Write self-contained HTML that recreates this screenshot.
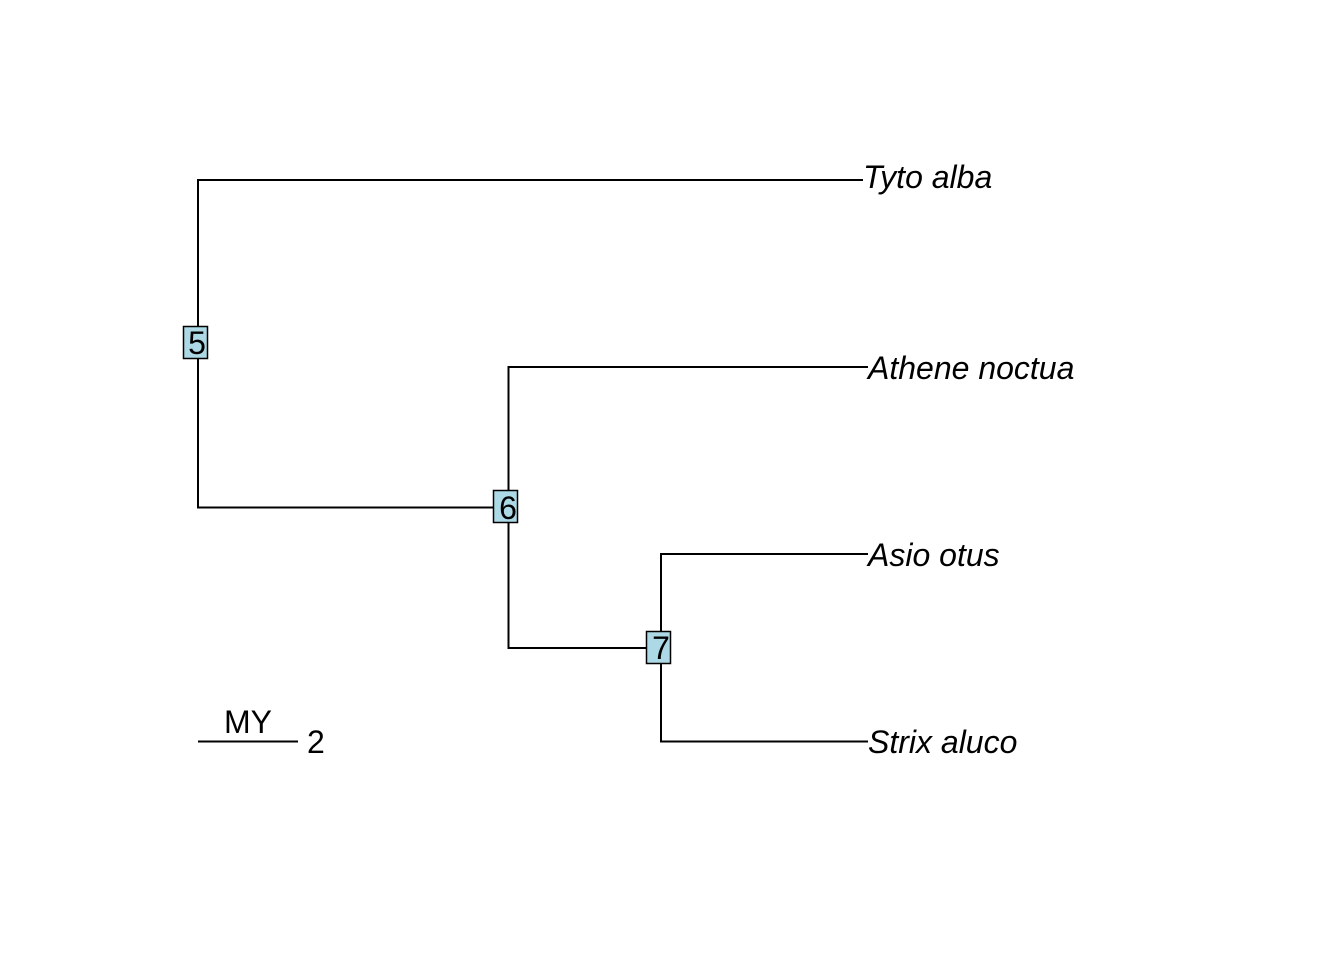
<!DOCTYPE html>
<html><head><style>body{margin:0;background:#fff}</style></head><body>
<svg width="1344" height="960" xmlns="http://www.w3.org/2000/svg" font-family="Liberation Sans, sans-serif">
<g stroke="#000" stroke-width="2" fill="none">
<path d="M863 180H198V507.5H508.5"/>
<path d="M868 367H508.5V648H661"/>
<path d="M868 554H661V741.5H868"/>
<path d="M198 741.5H298"/>
</g>
<g fill="#add8e6" stroke="#000" stroke-width="1.5">
<rect x="183.5" y="326.5" width="24" height="32"/>
<rect x="493.5" y="490.5" width="24" height="32"/>
<rect x="646.5" y="631.5" width="24" height="32"/>
</g>
<g font-size="32" text-anchor="middle" fill="#000">
<text x="197" y="354">5</text>
<text x="508" y="519">6</text>
<text x="661" y="659">7</text>
</g>
<g font-size="32" font-style="italic" fill="#000">
<text x="863" y="188">Tyto alba</text>
<text x="868" y="379">Athene noctua</text>
<text x="868" y="566">Asio otus</text>
<text x="868" y="753">Strix aluco</text>
</g>
<text x="248" y="733" font-size="32" text-anchor="middle">MY</text>
<text x="307" y="753" font-size="32">2</text>
</svg>
</body></html>
